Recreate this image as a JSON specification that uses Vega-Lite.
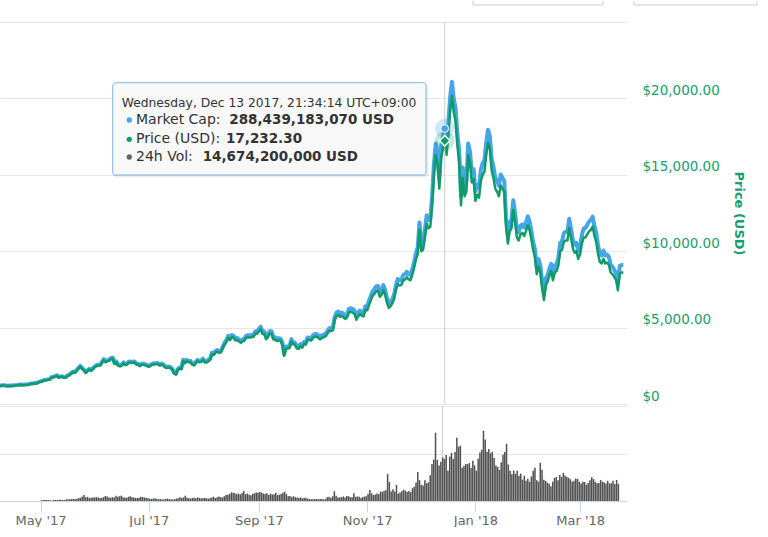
{
"$schema":"https://vega.github.io/schema/vega-lite/v6.json",
"padding":{"left":0,"top":0,"right":0,"bottom":0},
"background":"#ffffff",
"spacing":0,
"config":{"view":{"stroke":null},"font":"DejaVu Sans","axis":{"labelFont":"DejaVu Sans","titleFont":"DejaVu Sans"},"concat":{"spacing":0}},
"datasets":{
"hover":[{"t":"2017-12-13T12:34Z","p":17232.3,"m":288.44}],
"tipbox":[{"x1":"2017-06-12T11:17Z","x2":"2017-12-03T03:22Z","y1":21027,"y2":14987}],
"tipshadow":[{"x1":"2017-06-13T00:17Z","x2":"2017-12-03T16:22Z","y1":20962,"y2":14922}],
"buttons":[
{"x1":"2017-12-29T04:48Z","x2":"2017-12-29T04:48Z","y1":26374,"y2":26113},
{"x1":"2018-03-11T06:14Z","x2":"2018-03-11T06:14Z","y1":26374,"y2":26113},
{"x1":"2017-12-29T04:48Z","x2":"2018-03-11T06:14Z","y1":26113,"y2":26113},
{"x1":"2018-03-28T09:36Z","x2":"2018-03-28T09:36Z","y1":26374,"y2":26113},
{"x1":"2018-06-04T14:24Z","x2":"2018-06-04T14:24Z","y1":26374,"y2":26113},
{"x1":"2018-03-28T09:36Z","x2":"2018-06-04T14:24Z","y1":26113,"y2":26113}],
"tip":[
{"role":"header","t":"2017-06-17T11:03Z","y":19679,"text":"Wednesday, Dec 13 2017, 21:34:14 UTC+09:00"},
{"role":"bullet","series":"Market Cap","t":"2017-06-21T16:05Z","y":18586},
{"role":"bullet","series":"Price (USD)","t":"2017-06-21T16:05Z","y":17323},
{"role":"bullet","series":"24h Vol","t":"2017-06-21T16:05Z","y":16165},
{"role":"label","t":"2017-06-25T09:22Z","y":18586,"text":"Market Cap:"},
{"role":"label","t":"2017-06-25T09:22Z","y":17323,"text":"Price (USD):"},
{"role":"label","t":"2017-06-25T09:22Z","y":16165,"text":"24h Vol:"},
{"role":"value","t":"2017-08-16T02:24Z","y":18586,"text":"288,439,183,070 USD"},
{"role":"value","t":"2017-08-14T06:43Z","y":17323,"text":"17,232.30"},
{"role":"value","t":"2017-08-01T08:38Z","y":16165,"text":"14,674,200,000 USD"}],
"btc":[
{"d":"2017-04-10T12:34Z","p":1180,"m":19.21},
{"d":"2017-04-11T12:34Z","p":1190,"m":19.37},
{"d":"2017-04-12T12:34Z","p":1208,"m":19.67},
{"d":"2017-04-13T12:34Z","p":1208,"m":19.67},
{"d":"2017-04-14T12:34Z","p":1174,"m":19.11},
{"d":"2017-04-15T12:34Z","p":1180,"m":19.21},
{"d":"2017-04-16T12:34Z","p":1183,"m":19.26},
{"d":"2017-04-17T12:34Z","p":1180,"m":19.21},
{"d":"2017-04-18T12:34Z","p":1200,"m":19.54},
{"d":"2017-04-19T12:34Z","p":1209,"m":19.68},
{"d":"2017-04-20T12:34Z","p":1224,"m":19.93},
{"d":"2017-04-21T12:34Z","p":1246,"m":20.28},
{"d":"2017-04-22T12:34Z","p":1255,"m":20.43},
{"d":"2017-04-23T12:34Z","p":1233,"m":20.07},
{"d":"2017-04-24T12:34Z","p":1250,"m":20.35},
{"d":"2017-04-25T12:34Z","p":1248,"m":20.32},
{"d":"2017-04-26T12:34Z","p":1265,"m":20.59},
{"d":"2017-04-27T12:34Z","p":1287,"m":20.95},
{"d":"2017-04-28T12:34Z","p":1332,"m":21.68},
{"d":"2017-04-29T12:34Z","p":1317,"m":21.44},
{"d":"2017-04-30T12:34Z","p":1348,"m":21.95},
{"d":"2017-05-01T12:34Z","p":1353,"m":22.09,"v":0.25},
{"d":"2017-05-02T12:34Z","p":1421,"m":23.21,"v":0.3},
{"d":"2017-05-03T12:34Z","p":1452,"m":23.71,"v":0.3},
{"d":"2017-05-04T12:34Z","p":1491,"m":24.35,"v":0.35},
{"d":"2017-05-05T12:34Z","p":1537,"m":25.10,"v":0.3},
{"d":"2017-05-06T12:34Z","p":1555,"m":25.39,"v":0.2},
{"d":"2017-05-07T12:34Z","p":1578,"m":25.77,"v":0.2},
{"d":"2017-05-08T12:34Z","p":1596,"m":26.06,"v":0.35},
{"d":"2017-05-09T12:34Z","p":1723,"m":28.14,"v":0.4},
{"d":"2017-05-10T12:34Z","p":1755,"m":28.66,"v":0.35},
{"d":"2017-05-11T12:34Z","p":1787,"m":29.18,"v":0.4},
{"d":"2017-05-12T12:34Z","p":1848,"m":30.18,"v":0.45},
{"d":"2017-05-13T12:34Z","p":1725,"m":28.17,"v":0.3},
{"d":"2017-05-14T12:34Z","p":1771,"m":28.92,"v":0.35},
{"d":"2017-05-15T12:34Z","p":1776,"m":29.00,"v":0.5},
{"d":"2017-05-16T12:34Z","p":1724,"m":28.15,"v":0.55},
{"d":"2017-05-17T12:34Z","p":1734,"m":28.32,"v":0.6},
{"d":"2017-05-18T12:34Z","p":1839,"m":30.03,"v":0.65},
{"d":"2017-05-19T12:34Z","p":1888,"m":30.83,"v":0.7},
{"d":"2017-05-20T12:34Z","p":1987,"m":32.45,"v":0.6},
{"d":"2017-05-21T12:34Z","p":2084,"m":34.03,"v":0.8},
{"d":"2017-05-22T12:34Z","p":2041,"m":33.33,"v":1.0},
{"d":"2017-05-23T12:34Z","p":2173,"m":35.49,"v":1.1},
{"d":"2017-05-24T12:34Z","p":2321,"m":37.90,"v":1.5},
{"d":"2017-05-25T12:34Z","p":2443,"m":39.89,"v":2.0},
{"d":"2017-05-26T12:34Z","p":2305,"m":37.64,"v":1.3},
{"d":"2017-05-27T12:34Z","p":2203,"m":35.98,"v":1.4},
{"d":"2017-05-28T12:34Z","p":2038,"m":33.28,"v":1.0},
{"d":"2017-05-29T12:34Z","p":2156,"m":35.21,"v":1.1},
{"d":"2017-05-30T12:34Z","p":2255,"m":36.82,"v":1.2},
{"d":"2017-05-31T12:34Z","p":2175,"m":35.52,"v":1.2},
{"d":"2017-06-01T12:34Z","p":2286,"m":37.47,"v":1.3},
{"d":"2017-06-02T12:34Z","p":2407,"m":39.45,"v":1.2},
{"d":"2017-06-03T12:34Z","p":2488,"m":40.78,"v":1.0},
{"d":"2017-06-04T12:34Z","p":2515,"m":41.22,"v":1.0},
{"d":"2017-06-05T12:34Z","p":2512,"m":41.17,"v":1.3},
{"d":"2017-06-06T12:34Z","p":2691,"m":44.11,"v":1.7},
{"d":"2017-06-07T12:34Z","p":2863,"m":46.92,"v":1.5},
{"d":"2017-06-08T12:34Z","p":2732,"m":44.78,"v":1.2},
{"d":"2017-06-09T12:34Z","p":2805,"m":45.97,"v":1.1},
{"d":"2017-06-10T12:34Z","p":2824,"m":46.29,"v":1.3},
{"d":"2017-06-11T12:34Z","p":2947,"m":48.30,"v":1.2},
{"d":"2017-06-12T12:34Z","p":2955,"m":48.43,"v":1.8},
{"d":"2017-06-13T12:34Z","p":2619,"m":42.93,"v":1.4},
{"d":"2017-06-14T12:34Z","p":2717,"m":44.53,"v":1.6},
{"d":"2017-06-15T12:34Z","p":2507,"m":41.09,"v":1.8},
{"d":"2017-06-16T12:34Z","p":2465,"m":40.40,"v":1.3},
{"d":"2017-06-17T12:34Z","p":2518,"m":41.27,"v":1.2},
{"d":"2017-06-18T12:34Z","p":2655,"m":43.52,"v":1.1},
{"d":"2017-06-19T12:34Z","p":2548,"m":41.76,"v":1.4},
{"d":"2017-06-20T12:34Z","p":2589,"m":42.43,"v":1.6},
{"d":"2017-06-21T12:34Z","p":2721,"m":44.60,"v":1.3},
{"d":"2017-06-22T12:34Z","p":2689,"m":44.07,"v":1.2},
{"d":"2017-06-23T12:34Z","p":2706,"m":44.35,"v":1.0},
{"d":"2017-06-24T12:34Z","p":2720,"m":44.58,"v":1.0},
{"d":"2017-06-25T12:34Z","p":2590,"m":42.45,"v":1.1},
{"d":"2017-06-26T12:34Z","p":2579,"m":42.27,"v":1.4},
{"d":"2017-06-27T12:34Z","p":2478,"m":40.61,"v":1.3},
{"d":"2017-06-28T12:34Z","p":2573,"m":42.17,"v":1.2},
{"d":"2017-06-29T12:34Z","p":2574,"m":42.19,"v":1.0},
{"d":"2017-06-30T12:34Z","p":2539,"m":41.61,"v":0.9},
{"d":"2017-07-01T12:34Z","p":2480,"m":40.80,"v":0.8},
{"d":"2017-07-02T12:34Z","p":2434,"m":40.04,"v":0.7},
{"d":"2017-07-03T12:34Z","p":2506,"m":41.22,"v":0.8},
{"d":"2017-07-04T12:34Z","p":2564,"m":42.18,"v":0.9},
{"d":"2017-07-05T12:34Z","p":2602,"m":42.80,"v":0.7},
{"d":"2017-07-06T12:34Z","p":2602,"m":42.80,"v":0.6},
{"d":"2017-07-07T12:34Z","p":2608,"m":42.90,"v":0.7},
{"d":"2017-07-08T12:34Z","p":2519,"m":41.44,"v":0.5},
{"d":"2017-07-09T12:34Z","p":2571,"m":42.29,"v":0.5},
{"d":"2017-07-10T12:34Z","p":2519,"m":41.44,"v":0.7},
{"d":"2017-07-11T12:34Z","p":2395,"m":39.40,"v":0.8},
{"d":"2017-07-12T12:34Z","p":2358,"m":38.79,"v":0.6},
{"d":"2017-07-13T12:34Z","p":2383,"m":39.20,"v":0.6},
{"d":"2017-07-14T12:34Z","p":2353,"m":38.71,"v":0.5},
{"d":"2017-07-15T12:34Z","p":2233,"m":36.73,"v":0.6},
{"d":"2017-07-16T12:34Z","p":1998,"m":32.87,"v":0.8},
{"d":"2017-07-17T12:34Z","p":1929,"m":31.73,"v":0.9},
{"d":"2017-07-18T12:34Z","p":2228,"m":36.65,"v":1.3},
{"d":"2017-07-19T12:34Z","p":2318,"m":38.13,"v":1.0},
{"d":"2017-07-20T12:34Z","p":2273,"m":37.39,"v":1.2},
{"d":"2017-07-21T12:34Z","p":2818,"m":46.36,"v":1.8},
{"d":"2017-07-22T12:34Z","p":2667,"m":43.87,"v":1.1},
{"d":"2017-07-23T12:34Z","p":2810,"m":46.22,"v":0.9},
{"d":"2017-07-24T12:34Z","p":2730,"m":44.91,"v":0.8},
{"d":"2017-07-25T12:34Z","p":2755,"m":45.32,"v":1.0},
{"d":"2017-07-26T12:34Z","p":2576,"m":42.38,"v":1.1},
{"d":"2017-07-27T12:34Z","p":2529,"m":41.60,"v":0.9},
{"d":"2017-07-28T12:34Z","p":2671,"m":43.94,"v":1.2},
{"d":"2017-07-29T12:34Z","p":2809,"m":46.21,"v":1.0},
{"d":"2017-07-30T12:34Z","p":2726,"m":44.84,"v":0.9},
{"d":"2017-07-31T12:34Z","p":2757,"m":45.35,"v":0.9},
{"d":"2017-08-01T12:34Z","p":2875,"m":47.44,"v":1.0},
{"d":"2017-08-02T12:34Z","p":2718,"m":44.85,"v":0.9},
{"d":"2017-08-03T12:34Z","p":2710,"m":44.72,"v":0.8},
{"d":"2017-08-04T12:34Z","p":2804,"m":46.27,"v":0.9},
{"d":"2017-08-05T12:34Z","p":2895,"m":47.77,"v":1.2},
{"d":"2017-08-06T12:34Z","p":3252,"m":53.66,"v":1.4},
{"d":"2017-08-07T12:34Z","p":3213,"m":53.01,"v":1.0},
{"d":"2017-08-08T12:34Z","p":3378,"m":55.74,"v":1.3},
{"d":"2017-08-09T12:34Z","p":3419,"m":56.41,"v":1.5},
{"d":"2017-08-10T12:34Z","p":3342,"m":55.14,"v":1.3},
{"d":"2017-08-11T12:34Z","p":3381,"m":55.79,"v":1.2},
{"d":"2017-08-12T12:34Z","p":3650,"m":60.23,"v":1.6},
{"d":"2017-08-13T12:34Z","p":3884,"m":64.09,"v":2.0},
{"d":"2017-08-14T12:34Z","p":4073,"m":67.20,"v":2.1},
{"d":"2017-08-15T12:34Z","p":4325,"m":71.36,"v":2.4},
{"d":"2017-08-16T12:34Z","p":4181,"m":68.99,"v":2.9},
{"d":"2017-08-17T12:34Z","p":4377,"m":72.22,"v":2.8},
{"d":"2017-08-18T12:34Z","p":4331,"m":71.46,"v":2.6},
{"d":"2017-08-19T12:34Z","p":4160,"m":68.64,"v":2.3},
{"d":"2017-08-20T12:34Z","p":4194,"m":69.20,"v":2.5},
{"d":"2017-08-21T12:34Z","p":4088,"m":67.45,"v":2.2},
{"d":"2017-08-22T12:34Z","p":4001,"m":66.02,"v":2.7},
{"d":"2017-08-23T12:34Z","p":4100,"m":67.65,"v":3.4},
{"d":"2017-08-24T12:34Z","p":4152,"m":68.51,"v":2.3},
{"d":"2017-08-25T12:34Z","p":4340,"m":71.61,"v":2.5},
{"d":"2017-08-26T12:34Z","p":4364,"m":72.01,"v":2.1},
{"d":"2017-08-27T12:34Z","p":4353,"m":71.82,"v":1.9},
{"d":"2017-08-28T12:34Z","p":4383,"m":72.32,"v":2.4},
{"d":"2017-08-29T12:34Z","p":4383,"m":72.32,"v":2.6},
{"d":"2017-08-30T12:34Z","p":4610,"m":76.07,"v":2.9},
{"d":"2017-08-31T12:34Z","p":4591,"m":75.75,"v":2.8},
{"d":"2017-09-01T12:34Z","p":4743,"m":78.54,"v":3.0},
{"d":"2017-09-02T12:34Z","p":4892,"m":81.01,"v":2.8},
{"d":"2017-09-03T12:34Z","p":4578,"m":75.81,"v":2.5},
{"d":"2017-09-04T12:34Z","p":4582,"m":75.88,"v":2.4},
{"d":"2017-09-05T12:34Z","p":4237,"m":70.16,"v":2.6},
{"d":"2017-09-06T12:34Z","p":4376,"m":72.47,"v":2.0},
{"d":"2017-09-07T12:34Z","p":4597,"m":76.13,"v":2.5},
{"d":"2017-09-08T12:34Z","p":4599,"m":76.16,"v":2.2},
{"d":"2017-09-09T12:34Z","p":4229,"m":70.03,"v":2.3},
{"d":"2017-09-10T12:34Z","p":4227,"m":70.00,"v":2.7},
{"d":"2017-09-11T12:34Z","p":4123,"m":68.28,"v":2.0},
{"d":"2017-09-12T12:34Z","p":4162,"m":68.92,"v":2.1},
{"d":"2017-09-13T12:34Z","p":4131,"m":68.41,"v":2.4},
{"d":"2017-09-14T12:34Z","p":3882,"m":64.29,"v":2.8},
{"d":"2017-09-15T12:34Z","p":3154,"m":52.23,"v":3.1},
{"d":"2017-09-16T12:34Z","p":3638,"m":60.25,"v":2.3},
{"d":"2017-09-17T12:34Z","p":3630,"m":60.11,"v":1.6},
{"d":"2017-09-18T12:34Z","p":3667,"m":60.73,"v":1.7},
{"d":"2017-09-19T12:34Z","p":4101,"m":67.91,"v":1.3},
{"d":"2017-09-20T12:34Z","p":3907,"m":64.70,"v":1.6},
{"d":"2017-09-21T12:34Z","p":3881,"m":64.27,"v":1.3},
{"d":"2017-09-22T12:34Z","p":3632,"m":60.15,"v":1.2},
{"d":"2017-09-23T12:34Z","p":3609,"m":59.77,"v":1.0},
{"d":"2017-09-24T12:34Z","p":3792,"m":62.80,"v":1.2},
{"d":"2017-09-25T12:34Z","p":3682,"m":60.97,"v":0.9},
{"d":"2017-09-26T12:34Z","p":3926,"m":65.01,"v":1.0},
{"d":"2017-09-27T12:34Z","p":3893,"m":64.47,"v":1.1},
{"d":"2017-09-28T12:34Z","p":4209,"m":69.70,"v":0.8},
{"d":"2017-09-29T12:34Z","p":4193,"m":69.44,"v":0.7},
{"d":"2017-09-30T12:34Z","p":4156,"m":68.82,"v":0.6},
{"d":"2017-10-01T12:34Z","p":4339,"m":72.11,"v":0.6},
{"d":"2017-10-02T12:34Z","p":4404,"m":73.19,"v":0.7},
{"d":"2017-10-03T12:34Z","p":4410,"m":73.29,"v":0.7},
{"d":"2017-10-04T12:34Z","p":4318,"m":71.77,"v":0.6},
{"d":"2017-10-05T12:34Z","p":4229,"m":70.29,"v":0.7},
{"d":"2017-10-06T12:34Z","p":4329,"m":71.95,"v":0.7},
{"d":"2017-10-07T12:34Z","p":4371,"m":72.65,"v":0.5},
{"d":"2017-10-08T12:34Z","p":4438,"m":73.76,"v":0.6},
{"d":"2017-10-09T12:34Z","p":4610,"m":76.62,"v":1.3},
{"d":"2017-10-10T12:34Z","p":4773,"m":79.33,"v":1.4},
{"d":"2017-10-11T12:34Z","p":4782,"m":79.48,"v":1.0},
{"d":"2017-10-12T12:34Z","p":4820,"m":80.11,"v":1.6},
{"d":"2017-10-13T12:34Z","p":5500,"m":91.41,"v":3.3},
{"d":"2017-10-14T12:34Z","p":5750,"m":95.57,"v":1.8},
{"d":"2017-10-15T12:34Z","p":5829,"m":96.88,"v":1.2},
{"d":"2017-10-16T12:34Z","p":5710,"m":94.90,"v":1.2},
{"d":"2017-10-17T12:34Z","p":5763,"m":95.78,"v":1.3},
{"d":"2017-10-18T12:34Z","p":5654,"m":93.97,"v":1.5},
{"d":"2017-10-19T12:34Z","p":5572,"m":92.61,"v":1.2},
{"d":"2017-10-20T12:34Z","p":5696,"m":94.67,"v":1.7},
{"d":"2017-10-21T12:34Z","p":6011,"m":99.90,"v":1.6},
{"d":"2017-10-22T12:34Z","p":6031,"m":100.24,"v":1.3},
{"d":"2017-10-23T12:34Z","p":5982,"m":99.42,"v":1.3},
{"d":"2017-10-24T12:34Z","p":5903,"m":98.11,"v":2.6},
{"d":"2017-10-25T12:34Z","p":5513,"m":91.63,"v":1.4},
{"d":"2017-10-26T12:34Z","p":5733,"m":95.28,"v":1.5},
{"d":"2017-10-27T12:34Z","p":5888,"m":97.86,"v":1.4},
{"d":"2017-10-28T12:34Z","p":5767,"m":95.85,"v":1.0},
{"d":"2017-10-29T12:34Z","p":5733,"m":95.28,"v":1.3},
{"d":"2017-10-30T12:34Z","p":6153,"m":102.26,"v":1.5},
{"d":"2017-10-31T12:34Z","p":6131,"m":101.90,"v":1.6},
{"d":"2017-11-01T12:34Z","p":6469,"m":107.90,"v":2.4},
{"d":"2017-11-02T12:34Z","p":6768,"m":112.89,"v":3.7},
{"d":"2017-11-03T12:34Z","p":7078,"m":118.06,"v":2.6},
{"d":"2017-11-04T12:34Z","p":7207,"m":120.21,"v":2.0},
{"d":"2017-11-05T12:34Z","p":7379,"m":123.08,"v":2.2},
{"d":"2017-11-06T12:34Z","p":7407,"m":123.55,"v":2.5},
{"d":"2017-11-07T12:34Z","p":7023,"m":117.14,"v":2.3},
{"d":"2017-11-08T12:34Z","p":7144,"m":119.16,"v":3.2},
{"d":"2017-11-09T12:34Z","p":7460,"m":124.43,"v":3.0},
{"d":"2017-11-10T12:34Z","p":7143,"m":119.15,"v":3.4},
{"d":"2017-11-11T12:34Z","p":6618,"m":110.39,"v":3.6},
{"d":"2017-11-12T12:34Z","p":6300,"m":105.08,"v":9.1},
{"d":"2017-11-13T12:34Z","p":6400,"m":106.75,"v":6.4},
{"d":"2017-11-14T12:34Z","p":6600,"m":110.09,"v":3.2},
{"d":"2017-11-15T12:34Z","p":6900,"m":115.09,"v":4.0},
{"d":"2017-11-16T12:34Z","p":7500,"m":125.10,"v":3.2},
{"d":"2017-11-17T12:34Z","p":7850,"m":130.94,"v":5.4},
{"d":"2017-11-18T12:34Z","p":7750,"m":129.27,"v":2.5},
{"d":"2017-11-19T12:34Z","p":7800,"m":130.10,"v":2.9},
{"d":"2017-11-20T12:34Z","p":8100,"m":135.11,"v":3.3},
{"d":"2017-11-21T12:34Z","p":8150,"m":135.94,"v":3.8},
{"d":"2017-11-22T12:34Z","p":8300,"m":138.44,"v":3.5},
{"d":"2017-11-23T12:34Z","p":8150,"m":135.94,"v":3.0},
{"d":"2017-11-24T12:34Z","p":8100,"m":135.11,"v":3.4},
{"d":"2017-11-25T12:34Z","p":8450,"m":140.95,"v":3.0},
{"d":"2017-11-26T12:34Z","p":8900,"m":148.45,"v":4.3},
{"d":"2017-11-27T12:34Z","p":9450,"m":157.63,"v":4.8},
{"d":"2017-11-28T12:34Z","p":9800,"m":163.46,"v":6.2},
{"d":"2017-11-29T12:34Z","p":11400,"m":190.15,"v":9.8},
{"d":"2017-11-30T12:34Z","p":10000,"m":166.80,"v":7.0},
{"d":"2017-12-01T12:34Z","p":10100,"m":169.07,"v":5.4},
{"d":"2017-12-02T12:34Z","p":10900,"m":182.47,"v":5.2},
{"d":"2017-12-03T12:34Z","p":11800,"m":197.53,"v":7.0},
{"d":"2017-12-04T12:34Z","p":11500,"m":192.51,"v":6.0},
{"d":"2017-12-05T12:34Z","p":11600,"m":194.18,"v":6.3},
{"d":"2017-12-06T12:34Z","p":13000,"m":217.62,"v":8.7},
{"d":"2017-12-07T12:34Z","p":15000,"m":251.10,"v":12.5},
{"d":"2017-12-08T12:34Z","p":16300,"m":272.86,"v":14.0},
{"d":"2017-12-09T12:34Z","p":15700,"m":262.82,"v":23.0},
{"d":"2017-12-10T12:34Z","p":14100,"m":236.03,"v":13.8},
{"d":"2017-12-11T12:34Z","p":16100,"m":269.51,"v":12.0},
{"d":"2017-12-12T12:34Z","p":16700,"m":279.56,"v":13.2},
{"d":"2017-12-13T12:34Z","p":17232.3,"m":288.44,"v":14.67},
{"d":"2017-12-14T12:34Z","p":16300,"m":272.86,"v":14.2},
{"d":"2017-12-15T12:34Z","p":17600,"m":294.62,"v":15.5},
{"d":"2017-12-16T12:34Z","p":19200,"m":321.41,"v":10.2},
{"d":"2017-12-17T12:34Z","p":20150,"m":337.31,"v":15.0},
{"d":"2017-12-18T12:34Z","p":19100,"m":319.73,"v":16.2},
{"d":"2017-12-19T12:34Z","p":18500,"m":309.69,"v":14.2},
{"d":"2017-12-20T12:34Z","p":16900,"m":282.91,"v":16.5},
{"d":"2017-12-21T12:34Z","p":15900,"m":266.17,"v":21.3},
{"d":"2017-12-22T12:34Z","p":13000,"m":217.62,"v":18.3},
{"d":"2017-12-23T12:34Z","p":14800,"m":247.75,"v":18.6},
{"d":"2017-12-24T12:34Z","p":13600,"m":227.66,"v":11.2},
{"d":"2017-12-25T12:34Z","p":13900,"m":232.69,"v":11.8},
{"d":"2017-12-26T12:34Z","p":16300,"m":272.86,"v":12.5},
{"d":"2017-12-27T12:34Z","p":15800,"m":264.49,"v":12.4},
{"d":"2017-12-28T12:34Z","p":14500,"m":242.73,"v":12.8},
{"d":"2017-12-29T12:34Z","p":14700,"m":246.08,"v":11.2},
{"d":"2017-12-30T12:34Z","p":13300,"m":222.64,"v":13.6},
{"d":"2017-12-31T12:34Z","p":13700,"m":229.34,"v":12.0},
{"d":"2018-01-01T12:34Z","p":13500,"m":226.80,"v":10.2},
{"d":"2018-01-02T12:34Z","p":14600,"m":245.28,"v":14.2},
{"d":"2018-01-03T12:34Z","p":15000,"m":252.00,"v":16.3},
{"d":"2018-01-04T12:34Z","p":15200,"m":255.36,"v":17.3},
{"d":"2018-01-05T12:34Z","p":16300,"m":273.84,"v":23.7},
{"d":"2018-01-06T12:34Z","p":17100,"m":287.28,"v":20.7},
{"d":"2018-01-07T12:34Z","p":16700,"m":280.56,"v":16.6},
{"d":"2018-01-08T12:34Z","p":15300,"m":257.04,"v":17.5},
{"d":"2018-01-09T12:34Z","p":14800,"m":248.64,"v":16.1},
{"d":"2018-01-10T12:34Z","p":14100,"m":236.88,"v":16.6},
{"d":"2018-01-11T12:34Z","p":13900,"m":233.52,"v":14.5},
{"d":"2018-01-12T12:34Z","p":13600,"m":228.48,"v":12.0},
{"d":"2018-01-13T12:34Z","p":14300,"m":240.24,"v":11.5},
{"d":"2018-01-14T12:34Z","p":14100,"m":236.88,"v":10.5},
{"d":"2018-01-15T12:34Z","p":13900,"m":233.52,"v":13.0},
{"d":"2018-01-16T12:34Z","p":11600,"m":194.88,"v":15.6},
{"d":"2018-01-17T12:34Z","p":10500,"m":176.40,"v":16.5},
{"d":"2018-01-18T12:34Z","p":11300,"m":189.84,"v":19.3},
{"d":"2018-01-19T12:34Z","p":11500,"m":193.20,"v":12.3},
{"d":"2018-01-20T12:34Z","p":12700,"m":213.36,"v":10.2},
{"d":"2018-01-21T12:34Z","p":11900,"m":199.92,"v":9.0},
{"d":"2018-01-22T12:34Z","p":10900,"m":183.12,"v":10.3},
{"d":"2018-01-23T12:34Z","p":10700,"m":179.76,"v":9.2},
{"d":"2018-01-24T12:34Z","p":11100,"m":186.48,"v":10.2},
{"d":"2018-01-25T12:34Z","p":11200,"m":188.16,"v":8.5},
{"d":"2018-01-26T12:34Z","p":11000,"m":184.80,"v":9.2},
{"d":"2018-01-27T12:34Z","p":11300,"m":189.84,"v":7.2},
{"d":"2018-01-28T12:34Z","p":11700,"m":196.56,"v":8.5},
{"d":"2018-01-29T12:34Z","p":11400,"m":191.52,"v":6.8},
{"d":"2018-01-30T12:34Z","p":10800,"m":181.44,"v":7.5},
{"d":"2018-01-31T12:34Z","p":10100,"m":169.68,"v":6.5},
{"d":"2018-02-01T12:34Z","p":9600,"m":161.86,"v":8.3},
{"d":"2018-02-02T12:34Z","p":8500,"m":143.31,"v":10.2},
{"d":"2018-02-03T12:34Z","p":9000,"m":151.74,"v":11.2},
{"d":"2018-02-04T12:34Z","p":8600,"m":145.00,"v":7.0},
{"d":"2018-02-05T12:34Z","p":7600,"m":128.14,"v":6.5},
{"d":"2018-02-06T12:34Z","p":6800,"m":114.65,"v":12.9},
{"d":"2018-02-07T12:34Z","p":7800,"m":131.51,"v":10.5},
{"d":"2018-02-08T12:34Z","p":8000,"m":134.88,"v":7.2},
{"d":"2018-02-09T12:34Z","p":8400,"m":141.62,"v":6.8},
{"d":"2018-02-10T12:34Z","p":8700,"m":146.68,"v":6.2},
{"d":"2018-02-11T12:34Z","p":8100,"m":136.57,"v":5.8},
{"d":"2018-02-12T12:34Z","p":8600,"m":145.00,"v":5.0},
{"d":"2018-02-13T12:34Z","p":8700,"m":146.68,"v":6.5},
{"d":"2018-02-14T12:34Z","p":9100,"m":153.43,"v":7.8},
{"d":"2018-02-15T12:34Z","p":10000,"m":168.60,"v":8.1},
{"d":"2018-02-16T12:34Z","p":10100,"m":170.29,"v":7.0},
{"d":"2018-02-17T12:34Z","p":10600,"m":178.72,"v":8.8},
{"d":"2018-02-18T12:34Z","p":10700,"m":180.40,"v":8.1},
{"d":"2018-02-19T12:34Z","p":10700,"m":180.40,"v":9.5},
{"d":"2018-02-20T12:34Z","p":11500,"m":193.89,"v":8.6},
{"d":"2018-02-21T12:34Z","p":10900,"m":183.77,"v":8.1},
{"d":"2018-02-22T12:34Z","p":10200,"m":171.97,"v":7.8},
{"d":"2018-02-23T12:34Z","p":9900,"m":166.91,"v":7.3},
{"d":"2018-02-24T12:34Z","p":10000,"m":168.60,"v":6.5},
{"d":"2018-02-25T12:34Z","p":9500,"m":160.17,"v":6.8},
{"d":"2018-02-26T12:34Z","p":9800,"m":165.23,"v":7.6},
{"d":"2018-02-27T12:34Z","p":10500,"m":177.03,"v":7.4},
{"d":"2018-02-28T12:34Z","p":10900,"m":183.77,"v":6.5},
{"d":"2018-03-01T12:34Z","p":10900,"m":184.32,"v":5.9},
{"d":"2018-03-02T12:34Z","p":11100,"m":187.70,"v":6.5},
{"d":"2018-03-03T12:34Z","p":11300,"m":191.08,"v":6.4},
{"d":"2018-03-04T12:34Z","p":11400,"m":192.77,"v":5.5},
{"d":"2018-03-05T12:34Z","p":11600,"m":196.16,"v":6.1},
{"d":"2018-03-06T12:34Z","p":11000,"m":186.01,"v":7.0},
{"d":"2018-03-07T12:34Z","p":10600,"m":179.25,"v":8.0},
{"d":"2018-03-08T12:34Z","p":9800,"m":165.72,"v":7.4},
{"d":"2018-03-09T12:34Z","p":9300,"m":157.26,"v":6.5},
{"d":"2018-03-10T12:34Z","p":9200,"m":155.57,"v":6.0},
{"d":"2018-03-11T12:34Z","p":9500,"m":160.65,"v":6.1},
{"d":"2018-03-12T12:34Z","p":9200,"m":155.57,"v":7.1},
{"d":"2018-03-13T12:34Z","p":9250,"m":156.42,"v":6.5},
{"d":"2018-03-14T12:34Z","p":9100,"m":153.88,"v":6.3},
{"d":"2018-03-15T12:34Z","p":8600,"m":145.43,"v":5.9},
{"d":"2018-03-16T12:34Z","p":8500,"m":143.74,"v":6.8},
{"d":"2018-03-17T12:34Z","p":8300,"m":140.35,"v":5.9},
{"d":"2018-03-18T12:34Z","p":8100,"m":136.97,"v":6.0},
{"d":"2018-03-19T12:34Z","p":7450,"m":125.98,"v":6.8},
{"d":"2018-03-20T12:34Z","p":8550,"m":144.58,"v":5.7},
{"d":"2018-03-21T12:34Z","p":8600,"m":145.43,"v":7.1},
{"d":"2018-03-22T12:34Z","p":8600,"m":145.43,"v":5.8}
]},
"vconcat":[
{
"width":626,"height":382,
"resolve":{"scale":{"y":"independent"},"axis":{"y":"independent"}},
"layer":[
{"data":{"name":"btc"},"mark":{"type":"line","color":"#44a6e6","strokeWidth":4,"strokeJoin":"round","clip":true},
 "encoding":{"x":{"field":"d","type":"temporal","scale":{"type":"utc","domain":[{"year":2017,"month":4,"date":11,"utc":true},{"year":2018,"month":3,"date":24,"utc":true}]},"axis":null},
 "y":{"field":"m","type":"quantitative","scale":{"domain":[0,400]},"axis":null}}},
{"data":{"name":"btc"},"mark":{"type":"line","color":"#0e9b69","strokeWidth":2.5,"strokeJoin":"round","clip":true},
 "encoding":{"x":{"field":"d","type":"temporal","axis":null},
 "y":{"field":"p","type":"quantitative","scale":{"domain":[0,25000]},
  "axis":{"orient":"right","values":[0,5000,10000,15000,20000,25000],"grid":true,"gridColor":"#e6e6e6","ticks":false,"domain":false,"labelOverlap":false,
  "labelExpr":"datum.value==25000?'':datum.value==0?'$0':'$'+format(datum.value,',.2f')",
  "labelColor":"#17a06b","labelFontSize":13.5,"labelPadding":16,"labelOffset":-8,"labelAlign":"left","labelBaseline":"middle",
  "title":"Price (USD)","titleColor":"#17a06b","titleFontSize":13,"titleFontWeight":"bold","titlePadding":12}}}},
{"data":{"name":"hover"},"mark":{"type":"rule","color":"#cccccc","strokeWidth":1},
 "encoding":{"x":{"field":"t","type":"temporal","axis":null}}},
{"data":{"name":"hover"},"mark":{"type":"point","filled":true,"shape":"circle","size":380,"color":"#44a6e6","opacity":0.25},
 "encoding":{"x":{"field":"t","type":"temporal","axis":null},"y":{"field":"m","type":"quantitative","scale":{"domain":[0,400]},"axis":null}}},
{"data":{"name":"hover"},"mark":{"type":"point","filled":true,"shape":"circle","size":380,"color":"#0e9b69","opacity":0.25},
 "encoding":{"x":{"field":"t","type":"temporal","axis":null},"y":{"field":"p","type":"quantitative","scale":{"domain":[0,25000]},"axis":null}}},
{"data":{"name":"hover"},"mark":{"type":"point","filled":true,"shape":"circle","size":60,"fill":"#44a6e6","stroke":"#ffffff","strokeWidth":1,"opacity":1},
 "encoding":{"x":{"field":"t","type":"temporal","axis":null},"y":{"field":"m","type":"quantitative","scale":{"domain":[0,400]},"axis":null}}},
{"data":{"name":"hover"},"mark":{"type":"point","filled":true,"shape":"diamond","size":110,"fill":"#0e9b69","stroke":"#ffffff","strokeWidth":1.5,"opacity":1},
 "encoding":{"x":{"field":"t","type":"temporal","axis":null},"y":{"field":"p","type":"quantitative","scale":{"domain":[0,25000]},"axis":null}}},
{"data":{"name":"tipshadow"},"mark":{"type":"rect","fill":null,"stroke":"#000000","strokeOpacity":0.07,"strokeWidth":3,"cornerRadius":3},
 "encoding":{"x":{"field":"x1","type":"temporal","axis":null},"x2":{"field":"x2"},
 "y":{"field":"y1","type":"quantitative","scale":{"domain":[0,25000]},"axis":null},"y2":{"field":"y2"}}},
{"data":{"name":"tipbox"},"mark":{"type":"rect","fill":"#f7f7f7","fillOpacity":0.92,"stroke":"#7fbbe9","strokeWidth":1,"cornerRadius":3},
 "encoding":{"x":{"field":"x1","type":"temporal","axis":null},"x2":{"field":"x2"},
 "y":{"field":"y1","type":"quantitative","scale":{"domain":[0,25000]},"axis":null},"y2":{"field":"y2"}}},
{"data":{"name":"tip"},"transform":[{"filter":"datum.role==='header'"}],
 "mark":{"type":"text","align":"left","baseline":"middle","fontSize":12.3,"color":"#333333","font":"DejaVu Sans"},
 "encoding":{"x":{"field":"t","type":"temporal","axis":null},"y":{"field":"y","type":"quantitative","scale":{"domain":[0,25000]},"axis":null},"text":{"field":"text"}}},
{"data":{"name":"tip"},"transform":[{"filter":"datum.role==='bullet'"}],
 "mark":{"type":"point","filled":true,"shape":"circle","size":28,"opacity":1},
 "encoding":{"x":{"field":"t","type":"temporal","axis":null},"y":{"field":"y","type":"quantitative","scale":{"domain":[0,25000]},"axis":null},
 "color":{"field":"series","type":"nominal","scale":{"domain":["Market Cap","Price (USD)","24h Vol"],"range":["#44a6e6","#0e9b69","#666666"]},"legend":null}}},
{"data":{"name":"tip"},"transform":[{"filter":"datum.role==='label'"}],
 "mark":{"type":"text","align":"left","baseline":"middle","fontSize":14,"color":"#333333","font":"DejaVu Sans"},
 "encoding":{"x":{"field":"t","type":"temporal","axis":null},"y":{"field":"y","type":"quantitative","scale":{"domain":[0,25000]},"axis":null},"text":{"field":"text"}}},
{"data":{"name":"tip"},"transform":[{"filter":"datum.role==='value'"}],
 "mark":{"type":"text","align":"left","baseline":"middle","fontSize":13.5,"fontWeight":"bold","color":"#333333","font":"DejaVu Sans"},
 "encoding":{"x":{"field":"t","type":"temporal","axis":null},"y":{"field":"y","type":"quantitative","scale":{"domain":[0,25000]},"axis":null},"text":{"field":"text"}}},
{"data":{"name":"buttons"},"mark":{"type":"rule","color":"#cccccc","strokeWidth":1},
 "encoding":{"x":{"field":"x1","type":"temporal","axis":null},"x2":{"field":"x2"},
 "y":{"field":"y1","type":"quantitative","scale":{"domain":[0,25000]},"axis":null},"y2":{"field":"y2"}}}
]},
{
"width":626,"height":95,
"layer":[
{"data":{"name":"hover"},"mark":{"type":"rule","color":"#cccccc","strokeWidth":1},
 "encoding":{"x":{"field":"t","type":"temporal","scale":{"type":"utc","domain":[{"year":2017,"month":4,"date":11,"utc":true},{"year":2018,"month":3,"date":24,"utc":true}]},
  "axis":{"orient":"bottom","values":[{"year":2017,"month":5,"date":1,"utc":true},{"year":2017,"month":7,"date":1,"utc":true},{"year":2017,"month":9,"date":1,"utc":true},{"year":2017,"month":11,"date":1,"utc":true},{"year":2018,"month":1,"date":1,"utc":true},{"year":2018,"month":3,"date":1,"utc":true}],
  "labelExpr":"utcFormat(datum.value, \"%b '%y\")","tickColor":"#ccd6eb","tickSize":11,"domainColor":"#ccd6eb","labelColor":"#666666","labelFontSize":13,"labelPadding":2,"labelFlush":false,"grid":false,"title":null}}}},
{"data":{"name":"btc"},"mark":{"type":"bar","color":"#505050","size":1.5},
 "encoding":{"x":{"field":"d","type":"temporal"},
 "y":{"field":"v","type":"quantitative","scale":{"domain":[0,32]},"axis":{"values":[0,16,32],"grid":true,"gridColor":"#e6e6e6","labels":false,"ticks":false,"domain":false,"title":null,"minExtent":0,"maxExtent":0}}}}
]}
]
}
